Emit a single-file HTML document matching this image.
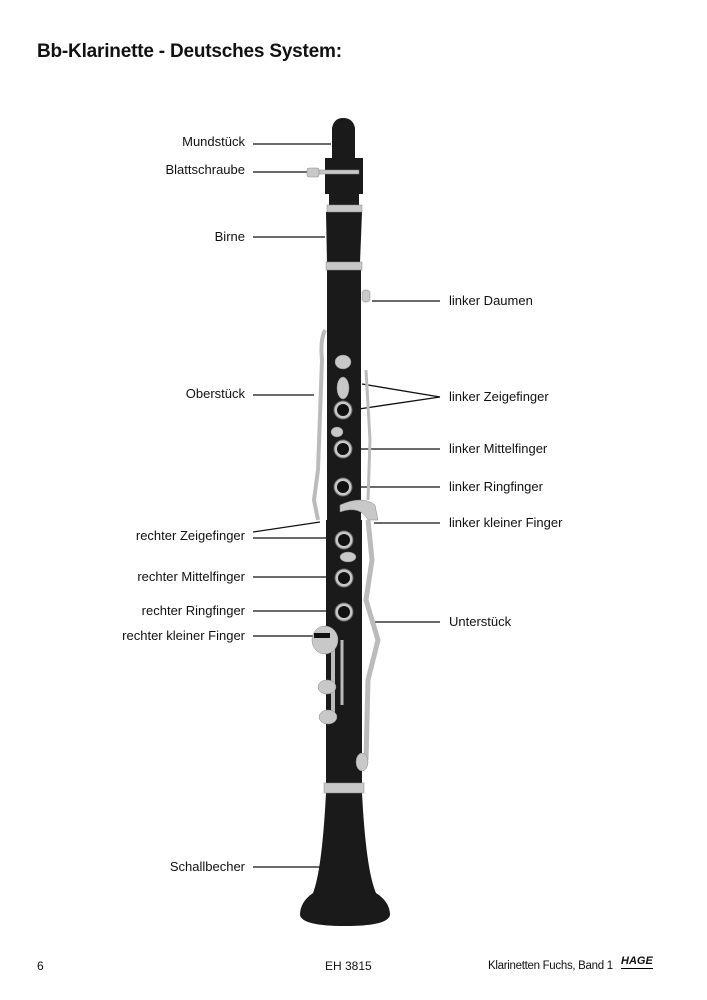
<!DOCTYPE html>
<html><head><meta charset="utf-8"><style>
html,body{margin:0;padding:0;background:#fff;}
body{width:707px;height:1000px;position:relative;overflow:hidden;font-family:"Liberation Sans",sans-serif;color:#111;}
.t{position:absolute;font-size:13px;white-space:nowrap;line-height:16px;}
.l{text-align:right;width:240px;left:5px;}
</style></head><body>
<div style="position:absolute;left:37px;top:41px;font-size:19px;font-weight:bold;letter-spacing:-0.2px">Bb-Klarinette - Deutsches System:</div>

<div class="t l" style="top:134px">Mundstück</div>
<div class="t l" style="top:162px">Blattschraube</div>
<div class="t l" style="top:229px">Birne</div>
<div class="t l" style="top:386px">Oberstück</div>
<div class="t l" style="top:528px">rechter Zeigefinger</div>
<div class="t l" style="top:569px">rechter Mittelfinger</div>
<div class="t l" style="top:603px">rechter Ringfinger</div>
<div class="t l" style="top:628px">rechter kleiner Finger</div>
<div class="t l" style="top:859px">Schallbecher</div>

<div class="t" style="left:449px;top:293px">linker Daumen</div>
<div class="t" style="left:449px;top:389px">linker Zeigefinger</div>
<div class="t" style="left:449px;top:441px">linker Mittelfinger</div>
<div class="t" style="left:449px;top:479px">linker Ringfinger</div>
<div class="t" style="left:449px;top:515px">linker kleiner Finger</div>
<div class="t" style="left:449px;top:614px">Unterstück</div>

<div class="t" style="left:37px;top:958px;font-size:12px">6</div>
<div class="t" style="left:325px;top:958px;font-size:12px">EH 3815</div>
<div class="t" style="left:488px;top:958px;font-size:11.5px;letter-spacing:-0.3px">Klarinetten Fuchs, Band 1</div>
<div class="t" style="left:621px;top:955px;font-size:11px;font-weight:bold;font-style:italic;border-bottom:1px solid #000;line-height:13px">HAGE</div>

<svg width="707" height="1000" style="position:absolute;left:0;top:0">
<g stroke="#111" stroke-width="1.3" fill="none">
<line x1="253" y1="144" x2="331" y2="144"/>
<line x1="253" y1="172" x2="310" y2="172"/>
<line x1="253" y1="237" x2="325" y2="237"/>
<line x1="253" y1="395" x2="314" y2="395"/>
<line x1="253" y1="532" x2="320" y2="522"/>
<line x1="253" y1="538" x2="335" y2="538"/>
<line x1="253" y1="577" x2="335" y2="577"/>
<line x1="253" y1="611" x2="335" y2="611"/>
<line x1="253" y1="636" x2="320" y2="636"/>
<line x1="253" y1="867" x2="320" y2="867"/>
<line x1="372" y1="301" x2="440" y2="301"/>
<line x1="362" y1="384" x2="440" y2="397"/>
<line x1="352" y1="410" x2="440" y2="397"/>
<line x1="350" y1="449" x2="440" y2="449"/>
<line x1="350" y1="487" x2="440" y2="487"/>
<line x1="374" y1="523" x2="440" y2="523"/>
<line x1="372" y1="622" x2="440" y2="622"/>
</g>
<g fill="#1a1a1a">
<path d="M332 160 L332 128 Q334 118 343 118 Q353 118 355 128 L355 160 Z"/>
<rect x="325" y="158" width="38" height="36"/>
<rect x="329" y="194" width="30" height="12"/>
<path d="M326 212 L362 212 L360 263 L327 263 Z"/>
<rect x="327" y="270" width="34" height="250"/>
<rect x="326" y="520" width="36" height="265"/>
<path d="M326 793 L362 793 Q366 870 376 893 Q390 902 390 915 Q388 926 345 926 Q302 926 300 915 Q300 902 313 893 Q322 870 326 793 Z"/>
</g>
<g fill="#c8c8c8" stroke="#888" stroke-width="0.5">
<rect x="307" y="168" width="12" height="9" rx="2"/>
<rect x="319" y="170" width="40" height="4"/>
<rect x="327" y="205" width="35" height="7"/>
<rect x="326" y="262" width="36" height="8"/>
<rect x="324" y="783" width="40" height="10"/>
<rect x="362" y="290" width="8" height="12" rx="3"/>
<path d="M325 330 Q320 340 322 360 L318 470 L314 500 L318 520" fill="none" stroke="#bbb" stroke-width="4"/>
<path d="M366 370 L370 440 L368 500" fill="none" stroke="#bbb" stroke-width="3"/>
<ellipse cx="343" cy="362" rx="8" ry="7"/>
<ellipse cx="343" cy="388" rx="6" ry="11"/>
<ellipse cx="337" cy="432" rx="6" ry="5"/>
<path d="M340 505 Q362 495 375 505 L378 520 L368 520 Q360 505 340 512 Z"/>
<path d="M368 520 L372 560 L366 600 L378 640 L368 680 L366 760" fill="none" stroke="#bbb" stroke-width="5"/>
<line x1="333" y1="640" x2="333" y2="720" stroke="#bbb" stroke-width="4"/>
<line x1="342" y1="640" x2="342" y2="705" stroke="#bbb" stroke-width="3"/>
<ellipse cx="325" cy="640" rx="13" ry="14"/>
<ellipse cx="327" cy="687" rx="9" ry="7"/>
<ellipse cx="328" cy="717" rx="9" ry="7"/>
<ellipse cx="362" cy="762" rx="6" ry="9"/>
<ellipse cx="348" cy="557" rx="8" ry="5"/>
</g>
<g fill="#c8c8c8" stroke="#666" stroke-width="1">
<circle cx="343" cy="410" r="9"/><circle cx="343" cy="449" r="9"/><circle cx="343" cy="487" r="9"/>
<circle cx="344" cy="540" r="9"/><circle cx="344" cy="578" r="9"/><circle cx="344" cy="612" r="9"/>
</g>
<g fill="#111">
<circle cx="343" cy="410" r="6"/><circle cx="343" cy="449" r="6"/><circle cx="343" cy="487" r="6"/>
<circle cx="344" cy="540" r="6"/><circle cx="344" cy="578" r="6"/><circle cx="344" cy="612" r="6"/>
</g>
<rect x="314" y="633" width="16" height="5" fill="#111"/>
</svg>
</body></html>
